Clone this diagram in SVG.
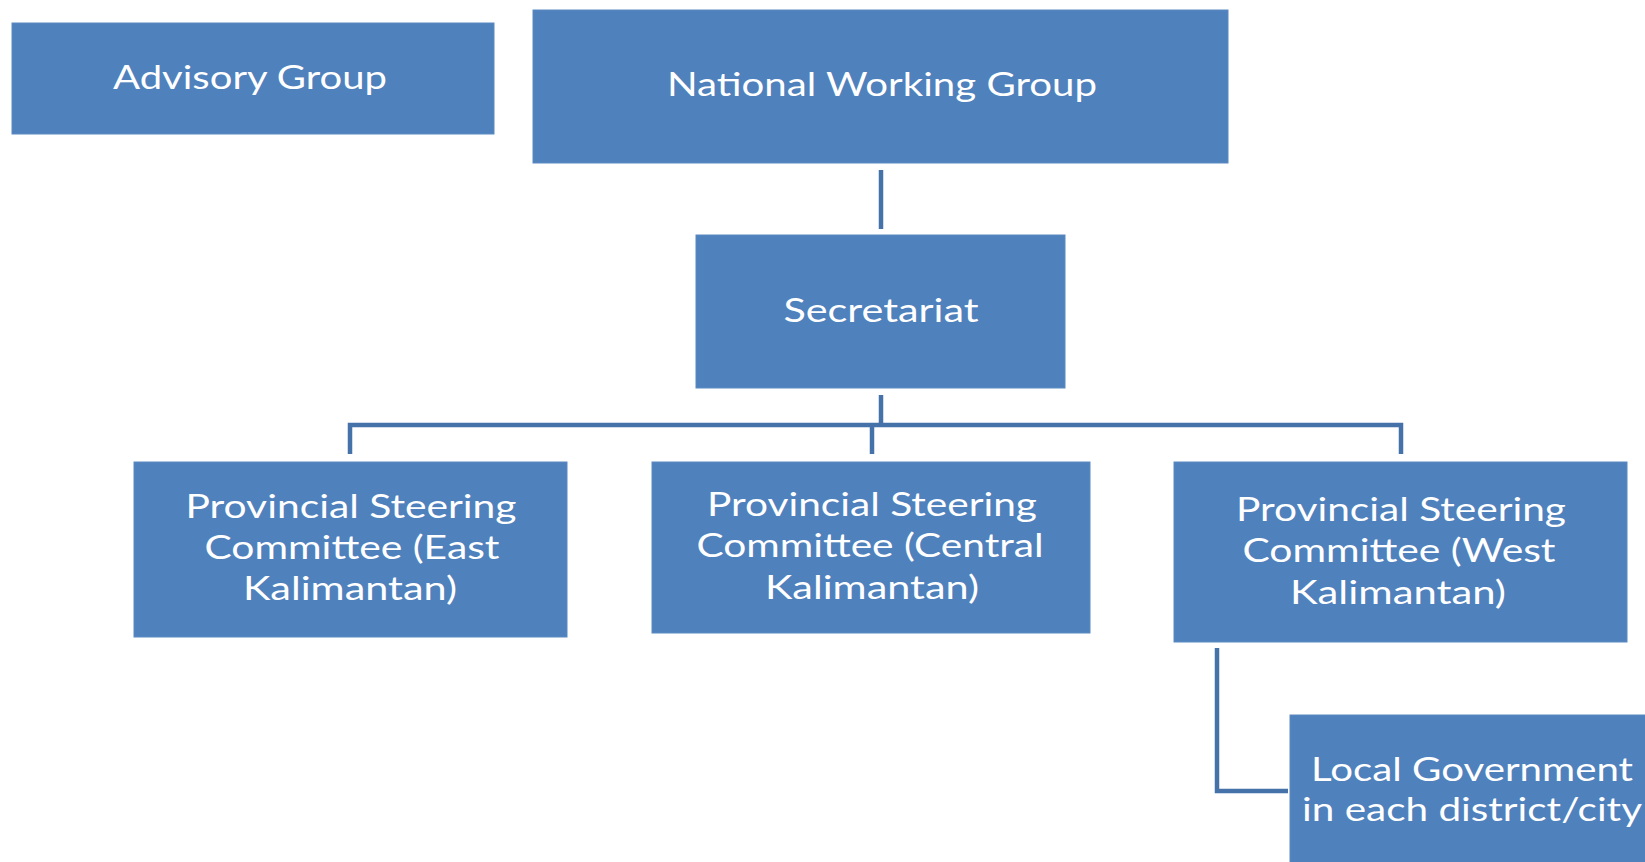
<svg xmlns="http://www.w3.org/2000/svg" width="1645" height="862" viewBox="0 0 1645 862">
<style>
.box{fill:#4F81BD;stroke:#5b8ac2;stroke-width:1}
.t{fill:#ffffff;font-family:Lato,"Open Sans","Liberation Sans",sans-serif;font-size:33px;text-anchor:middle}
.c{fill:none;stroke:#4672aa;stroke-width:4.5}
</style>
<rect width="1645" height="862" fill="#ffffff"/>
<g id="connectors">
<line class="c" x1="881" y1="170" x2="881" y2="229"/>
<line class="c" x1="881" y1="395" x2="881" y2="425"/>
<polyline class="c" points="350,454 350,425 1401,425 1401,454"/>
<line class="c" x1="872" y1="425" x2="872" y2="454"/>
<polyline class="c" points="1217,648 1217,791 1288,791"/>
</g>
<g id="advisory">
<rect class="box" x="12" y="23" width="482" height="111"/>
<text class="t" x="250" y="89" textLength="274" lengthAdjust="spacingAndGlyphs">Advisory Group</text>
</g>
<g id="nwg">
<rect class="box" x="533" y="10" width="695" height="153"/>
<text class="t" x="882" y="96" textLength="430" lengthAdjust="spacingAndGlyphs">National Working Group</text>
</g>
<g id="secretariat">
<rect class="box" x="696" y="235" width="369" height="153"/>
<text class="t" x="881" y="322" textLength="195" lengthAdjust="spacingAndGlyphs">Secretariat</text>
</g>
<g id="psc-east">
<rect class="box" x="134" y="462" width="433" height="175"/>
<text class="t" x="351" y="518" textLength="331" lengthAdjust="spacingAndGlyphs">Provincial Steering</text>
<text class="t" x="352" y="559" textLength="295" lengthAdjust="spacingAndGlyphs">Committee (East</text>
<text class="t" x="350" y="600" textLength="214" lengthAdjust="spacingAndGlyphs">Kalimantan)</text>
</g>
<g id="psc-central">
<rect class="box" x="652" y="462" width="438" height="171"/>
<text class="t" x="872" y="516" textLength="330" lengthAdjust="spacingAndGlyphs">Provincial Steering</text>
<text class="t" x="870" y="557" textLength="347" lengthAdjust="spacingAndGlyphs">Committee (Central</text>
<text class="t" x="872" y="599" textLength="214" lengthAdjust="spacingAndGlyphs">Kalimantan)</text>
</g>
<g id="psc-west">
<rect class="box" x="1174" y="462" width="453" height="180"/>
<text class="t" x="1401" y="521" textLength="330" lengthAdjust="spacingAndGlyphs">Provincial Steering</text>
<text class="t" x="1399" y="562" textLength="313" lengthAdjust="spacingAndGlyphs">Committee (West</text>
<text class="t" x="1398" y="604" textLength="216" lengthAdjust="spacingAndGlyphs">Kalimantan)</text>
</g>
<g id="local-gov">
<rect class="box" x="1290" y="715" width="360" height="152"/>
<text class="t" x="1472" y="781" textLength="322" lengthAdjust="spacingAndGlyphs">Local Government</text>
<text class="t" x="1472" y="821" textLength="340" lengthAdjust="spacingAndGlyphs">in each district/city</text>
</g>
</svg>
